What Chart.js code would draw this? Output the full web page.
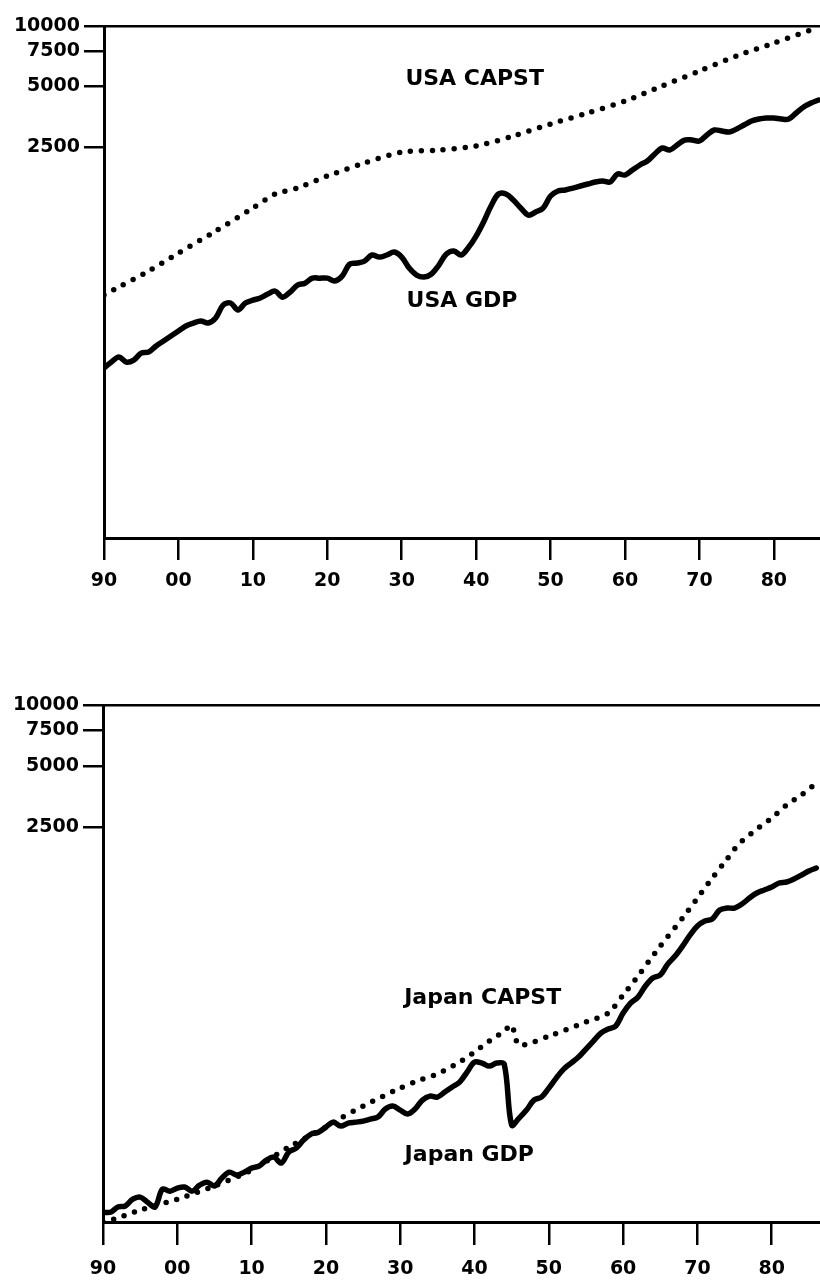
<!DOCTYPE html>
<html>
<head>
<meta charset="utf-8">
<script src="https://cdn.jsdelivr.net/npm/chart.js@4/dist/chart.umd.min.js"></script>
<style>
  html, body { margin: 0; padding: 0; background: #fff; overflow: hidden; }
  .panel { position: absolute; left: 0; }
  #usaWrap { top: 0; }
  #japanWrap { top: 680px; }
</style>
</head>
<body>
<div class="panel" id="usaWrap"><canvas id="usa" width="820" height="600"></canvas></div>
<div class="panel" id="japanWrap"><canvas id="japan" width="820" height="600"></canvas></div>
<script>
// Annual series start in 1890
const firstYear = 1890;

// USA real GDP, annual 1890-1986
const usaGdp = [
  199, 213, 226, 213, 218, 236, 239, 256, 271, 287,
  304, 322, 333, 341, 333, 353, 409, 419, 387, 419,
  433, 444, 464, 480, 448, 475, 514, 526, 557, 557,
  557, 539, 570, 654, 662, 677, 726, 709, 726, 751,
  709, 625, 577, 564, 584, 647, 734, 760, 726, 795,
  902, 1059, 1272, 1460, 1460, 1362, 1243, 1147, 1188, 1243,
  1427, 1511, 1528, 1563, 1600, 1637, 1675, 1694, 1675, 1835,
  1814, 1921, 2035, 2131, 2308, 2472, 2416, 2559, 2709, 2709,
  2679, 2870, 3038, 3003, 2969, 3073, 3217, 3368, 3446, 3486,
  3486, 3446, 3446, 3692, 3954, 4140, 4283
];

// USA capital stock, benchmark years
const usaCapstYears = [1890, 1892, 1896, 1900, 1905, 1910, 1913, 1916, 1920, 1925, 1930, 1935, 1940, 1945, 1950, 1955, 1960, 1965, 1970, 1975, 1980, 1985, 1986];
const usaCapst = [459, 503, 604, 742, 955, 1243, 1460, 1563, 1794, 2082, 2361, 2415, 2529, 2836, 3254, 3692, 4235, 5029, 5973, 7093, 8229, 9552, 9886];

// Japan real GDP, annual 1890-1986
const japanGdp = [
  31.4, 31.4, 33.3, 33.7, 36.4, 37.3, 35.2, 33.3, 40.8, 39.9,
  41.3, 41.8, 39.9, 42.7, 44.2, 42.3, 46.3, 49.5, 47.9, 49.5,
  51.8, 53.0, 56.8, 58.7, 54.9, 62.2, 65.1, 71.3, 76.3, 78.0,
  82.6, 87.4, 83.6, 86.5, 87.4, 88.4, 90.5, 92.6, 101.4, 104.9,
  100.2, 95.8, 101.4, 112.3, 117.5, 116.2, 123.0, 130.2, 137.8, 154.4,
  172.9, 171.0, 165.3, 171.0, 169.0, 84.5, 91.5, 100.2, 112.3, 116.2,
  128.7, 144.2, 159.7, 171.0, 183.0, 200.5, 219.6, 240.5, 251.7, 260.4,
  301.8, 338.1, 362.0, 410.2, 449.3, 464.8, 526.6, 576.9, 646.4, 732.3,
  811.4, 858.8, 878.4, 973.2, 995.4, 995.4, 1042, 1115, 1181, 1222,
  1264, 1323, 1338, 1384, 1448, 1516, 1569
];

// Japan capital stock, benchmark years
const japanCapstYears = [1890, 1892, 1895, 1900, 1905, 1910, 1915, 1920, 1922, 1925, 1930, 1933, 1935, 1938, 1940, 1942, 1944, 1945, 1946, 1950, 1955, 1958, 1960, 1962, 1965, 1968, 1970, 1972, 1974, 1975, 1976, 1978, 1980, 1982, 1984, 1986];
const japanCapst = [28.1, 29.4, 32.2, 36.4, 42.3, 50.7, 65.8, 82.6, 91.5, 104.9, 128.7, 142.6, 150.9, 172.9, 193.8, 219.6, 246.0, 263.4, 209.8, 232.4, 272.5, 301.8, 370.4, 459.6, 646.4, 888.6, 1115, 1400, 1738, 1946, 2132, 2443, 2769, 3209, 3596, 4121];

// Axis ticks
const yTicks = [2500, 5000, 7500, 10000];
const xTicks = [1890, 1900, 1910, 1920, 1930, 1940, 1950, 1960, 1970, 1980];

// Series names written beside the curves: [text, year, value]
const usaLabels = [["USA CAPST", 1939.8, 5450], ["USA GDP", 1938.1, 428]];
const japanLabels = [["Japan CAPST", 1941.1, 358], ["Japan GDP", 1939.3, 60]];

const INK = '#000';
const TICK_FONT = { family: 'DejaVu Sans', size: 19, weight: 'bold' };
const LABEL_FONT = 'bold 22px "DejaVu Sans"';

function annual(values) {
  return values.map((v, i) => ({ x: firstYear + i, y: v }));
}
function paired(years, values) {
  return years.map((yr, i) => ({ x: yr, y: values[i] }));
}

const seriesLabelPlugin = {
  id: 'seriesLabels',
  afterDatasetsDraw(chart, args, opts) {
    const ctx = chart.ctx;
    const xs = chart.scales.x, ys = chart.scales.y;
    ctx.save();
    ctx.font = LABEL_FONT;
    ctx.fillStyle = INK;
    ctx.textAlign = 'center';
    ctx.textBaseline = 'middle';
    (opts.items || []).forEach(([text, yr, val]) => {
      ctx.fillText(text, xs.getPixelForValue(yr), ys.getPixelForValue(val));
    });
    ctx.restore();
  }
};

function makeChart(canvasId, gdp, capst, labels, cfg) {
  return new Chart(document.getElementById(canvasId), {
    type: 'line',
    data: {
      datasets: [
        {
          data: gdp,
          borderColor: INK,
          borderWidth: 5.5,
          pointRadius: 0,
          tension: 0.35,
          borderCapStyle: 'round',
          borderJoinStyle: 'round'
        },
        {
          data: capst,
          borderColor: INK,
          borderWidth: 5.5,
          borderDash: [0, 11],
          borderCapStyle: 'round',
          pointRadius: 0,
          tension: 0.25
        }
      ]
    },
    options: {
      responsive: false,
      devicePixelRatio: 1,
      animation: false,
      events: [],
      layout: { padding: { top: cfg.top, left: 0, right: 0, bottom: 0 } },
      plugins: {
        legend: { display: false },
        tooltip: { enabled: false },
        seriesLabels: { items: labels }
      },
      scales: {
        x: {
          type: 'linear',
          min: 1890,
          max: cfg.xMax,
          afterFit: s => { s.height = cfg.axisH; },
          afterBuildTicks: s => { s.ticks = xTicks.map(v => ({ value: v })); },
          border: { display: true, color: INK, width: 3 },
          grid: { drawOnChartArea: false, drawTicks: true, tickLength: cfg.tickLen, color: INK, lineWidth: 2.5 },
          ticks: {
            color: INK,
            font: TICK_FONT,
            padding: cfg.labelPad,
            maxRotation: 0,
            autoSkip: false,
            callback: v => String(v % 100).padStart(2, '0')
          }
        },
        y: {
          type: 'logarithmic',
          min: cfg.yMin,
          max: 10000,
          afterFit: s => { s.width = cfg.left; },
          afterBuildTicks: s => { s.ticks = yTicks.map(v => ({ value: v })); },
          border: { display: true, color: INK, width: 3 },
          grid: {
            drawOnChartArea: true,
            drawTicks: true,
            tickLength: 20,
            lineWidth: 2.5,
            color: c => (c.tick && c.tick.value === 10000 ? INK : 'rgba(0,0,0,0)'),
            tickColor: INK
          },
          ticks: {
            color: INK,
            font: TICK_FONT,
            padding: 4,
            autoSkip: false,
            callback: v => String(v)
          }
        }
      }
    },
    plugins: [seriesLabelPlugin]
  });
}

makeChart('usa', annual(usaGdp), paired(usaCapstYears, usaCapst), usaLabels,
  { top: 26, left: 104, axisH: 62, tickLen: 22, labelPad: 10, yMin: 28.4, xMax: 1986.2 });
makeChart('japan', annual(japanGdp), paired(japanCapstYears, japanCapst), japanLabels,
  { top: 25, left: 103, axisH: 58, tickLen: 23, labelPad: 13, yMin: 28.1, xMax: 1986.5 });
</script>
</body>
</html>
